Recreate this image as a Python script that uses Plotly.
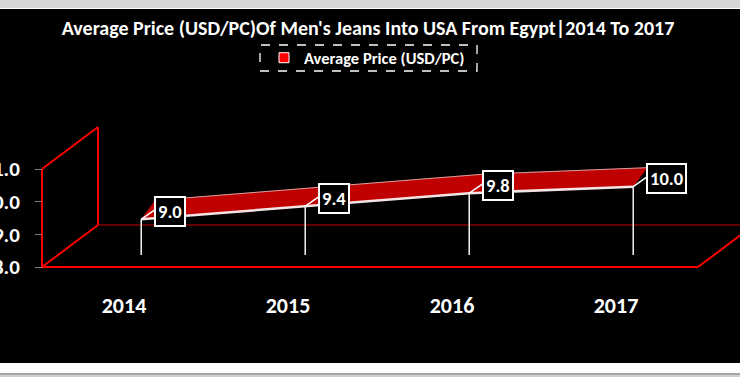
import plotly.graph_objects as go

# ---- data ----
years = ["2014", "2015", "2016", "2017"]
avg_price = [9.0, 9.4, 9.8, 10.0]
y_ticks = [8, 9, 10, 11]
series_name = "Average Price (USD/PC)"
title_text = "Average Price (USD/PC)Of Men's Jeans Into USA From Egypt|2014 To 2017"

W, H = 740, 377
FONT = "Carlito, 'Liberation Sans Narrow', 'Open Sans', sans-serif"

# geometry (axis units): depth of the 3D box and ribbon offsets
DX, DY = 0.3415, 1.2857          # full depth of floor / wall
F_DX, F_DY = 0.105, 0.46         # ribbon front edge offset from front plane
T_DX, T_DY = 0.085, 0.58         # ribbon top/back edge relative to front edge
C_DX, C_DY = 0.08, 0.28          # crease diagonal
DROP_BOTTOM = 8.37

xs = list(range(len(years)))
fx = [x + F_DX for x in xs]
fy = [v + F_DY for v in avg_price]
tx = [x + T_DX for x in fx]
ty = [v + T_DY for v in fy]

fig = go.Figure()

# ribbon (red)
fig.add_trace(go.Scatter(
    x=fx + tx[::-1] + [fx[0]], y=fy + ty[::-1] + [fy[0]],
    mode="lines", fill="toself", fillcolor="#c00000",
    line=dict(color="#c00000", width=0.5), hoverinfo="skip", showlegend=False))
# top edge highlight
fig.add_trace(go.Scatter(x=tx, y=ty, mode="lines",
                         line=dict(color="#d9a0a0", width=1),
                         hoverinfo="skip", showlegend=False))
# front edge highlight
fig.add_trace(go.Scatter(x=fx, y=fy, mode="lines",
                         line=dict(color="#f4e4e4", width=2.5),
                         hoverinfo="skip", showlegend=False))
# creases and drop lines
cx, cy, dxl, dyl = [], [], [], []
for a, b in zip(fx, fy):
    cx += [a, a + C_DX, None]
    cy += [b, b + C_DY, None]
    dxl += [a, a, None]
    dyl += [b, DROP_BOTTOM, None]
fig.add_trace(go.Scatter(x=cx, y=cy, mode="lines", line=dict(color="#ffffff", width=1.5),
                         hoverinfo="skip", showlegend=False))
fig.add_trace(go.Scatter(x=dxl, y=dyl, mode="lines", line=dict(color="#f2f2f2", width=1.5),
                         hoverinfo="skip", showlegend=False))
# legend entry
fig.add_trace(go.Scatter(x=[None], y=[None], mode="markers", name=series_name,
                         marker=dict(symbol="square", size=10, color="#ff0000",
                                     line=dict(color="#ffffff", width=1))))

# data labels
for a, b, v in zip(fx, fy, avg_price):
    fig.add_annotation(x=a, y=b, xref="x", yref="y", text=f"<b>{v:.1f}</b>",
                       showarrow=False, xanchor="left", yanchor="middle",
                       xshift=13, yshift=8, bgcolor="#000000",
                       bordercolor="#ffffff", borderwidth=2, borderpad=2,
                       font=dict(family=FONT, size=18.5, color="#ffffff"))

def py(px):
    return 1 - px / H

shapes = [
    dict(type="rect", xref="paper", yref="paper", x0=0, x1=1, y0=py(8), y1=1,
         fillcolor="#d6d6d6", line_width=0, layer="below"),
    dict(type="rect", xref="paper", yref="paper", x0=0, x1=1, y0=py(363), y1=py(9),
         fillcolor="#000000", line_width=0, layer="below"),
    dict(type="rect", xref="paper", yref="paper", x0=0, x1=1, y0=py(375), y1=py(373),
         fillcolor="#a6a6a6", line_width=0, layer="below"),
    dict(type="rect", xref="paper", yref="paper", x0=0, x1=1, y0=0, y1=py(375),
         fillcolor="#cfcfcf", line_width=0, layer="below"),
]
red = dict(color="#ff0000", width=2)
x0, x1 = -0.5, len(years) - 0.5
y0, y1 = min(y_ticks), max(y_ticks)
frame = [
    (x0, y0, x0, y1, red), (x0, y1, x0 + DX, y1 + DY, red),
    (x0 + DX, y1 + DY, x0 + DX, y0 + DY, red), (x0, y0, x0 + DX, y0 + DY, red),
    (x0, y0, x1, y0, red), (x1, y0, x1 + DX, y0 + DY, red),
    (x0 + DX, y0 + DY, x1 + DX, y0 + DY, dict(color="#c00000", width=1.2)),
]
for a0, b0, a1, b1, ln in frame:
    shapes.append(dict(type="line", xref="x", yref="y", x0=a0, y0=b0, x1=a1, y1=b1,
                       line=ln, layer="below"))
# dashed legend box
shapes.append(dict(type="rect", xref="paper", yref="paper", x0=260 / W, x1=477 / W,
                   y0=py(71), y1=py(45), line=dict(color="#ffffff", width=1.3, dash="dash"),
                   fillcolor="rgba(0,0,0,0)"))

fig.update_layout(
    width=W, height=H, margin=dict(l=0, r=0, t=0, b=0, autoexpand=False),
    paper_bgcolor="#ffffff", plot_bgcolor="rgba(0,0,0,0)",
    shapes=shapes,
    title=dict(text=f"<b>{title_text}</b>", x=368 / W, y=py(28), xanchor="center",
               yanchor="middle", font=dict(family=FONT, size=20, color="#ffffff")),
    legend=dict(x=264 / W, y=py(58), xanchor="left", yanchor="middle",
                bgcolor="rgba(0,0,0,0)", borderwidth=0,
                font=dict(family=FONT, size=16.5, color="#ffffff", weight="bold")),
    xaxis=dict(range=[-124 / 164, (W - 124) / 164], domain=[0, 1], anchor="free",
               position=py(290), tickvals=xs, ticktext=[f"<b>{y}</b>" for y in years],
               showgrid=False, zeroline=False, showline=False, ticks="",
               automargin=False,
               tickfont=dict(family=FONT, size=22, color="#ffffff")),
    yaxis=dict(range=[8 - 110 / (98 / 3), 8 + 267 / (98 / 3)], domain=[0, 1],
               anchor="free", position=42 / W, tickvals=y_ticks,
               ticktext=[f"<b>{t:.1f}</b>" for t in y_ticks],
               showgrid=False, zeroline=False, showline=False,
               ticks="outside", ticklen=7, tickcolor="#7f7f7f", tickwidth=1,
               ticklabelstandoff=11, automargin=False,
               tickfont=dict(family=FONT, size=21, color="#ffffff")),
)

fig.write_html("out.html")
